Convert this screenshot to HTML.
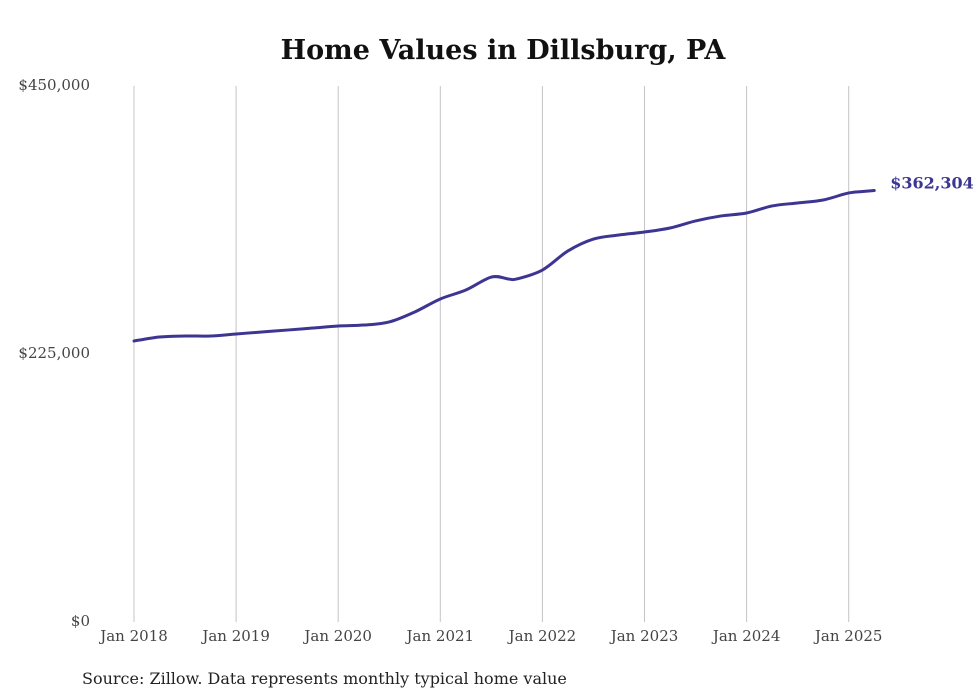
<!DOCTYPE html>
<html><head><meta charset="utf-8"><style>
html,body{margin:0;padding:0;background:#fff;}
svg{display:block;font-family:"DejaVu Serif","Liberation Serif",serif;}
</style></head><body>
<svg id="chart" width="980" height="699" viewBox="0 0 980 699">
<text x="503" y="59" text-anchor="middle" font-size="27" font-weight="bold" fill="#111">Home Values in Dillsburg, PA</text>
<g id="grid"></g>
<g id="yaxis"></g>
<g id="xaxis"></g>
<g id="series"></g>
<text x="82" y="684" font-size="16" fill="#222">Source: Zillow. Data represents monthly typical home value</text>
</svg>
<script>
const months = [0,3,6,9,12,15,18,21,24,27,30,33,36,39,42,44,45,48,51,54,57,60,63,66,69,72,75,78,81,84,86,87];
const values = [235900,239300,240100,240100,241800,243500,245100,246800,248500,249300,251900,260300,271200,278700,289600,288000,288000,295500,311500,321500,324900,327400,330800,336700,340900,343400,349300,351800,354300,360200,361600,362304];
const xTickLabels = ["Jan 2018","Jan 2019","Jan 2020","Jan 2021","Jan 2022","Jan 2023","Jan 2024","Jan 2025"];
const xTickMonths = [0,12,24,36,48,60,72,84];
const yTickValues = [0,225000,450000];
const yTickLabels = ["$0","$225,000","$450,000"];
const endLabel = "$362,304";

const NS="http://www.w3.org/2000/svg";
const x0=134, pxPerMonth=102.1/12, yBase=622, yTop=86, yMax=450000;
const xs=m=>x0+m*pxPerMonth;
const ys=v=>yBase-(v/yMax)*(yBase-yTop);
function mk(t,attrs,parent){const e=document.createElementNS(NS,t);for(const k in attrs)e.setAttribute(k,attrs[k]);parent.appendChild(e);return e;}
const grid=document.getElementById('grid'),xa=document.getElementById('xaxis'),ya=document.getElementById('yaxis'),se=document.getElementById('series');
xTickMonths.forEach((m,i)=>{
  const l=mk('line',{x1:xs(m),x2:xs(m),y1:yTop,y2:yBase,stroke:'#c4c4c4','stroke-width':1},grid);
  
  
  const t=mk('text',{x:xs(m),y:641,'text-anchor':'middle','font-size':15,fill:'#444'},xa);
  t.textContent=xTickLabels[i];
  
  
});
yTickValues.forEach((v,i)=>{
  const t=mk('text',{x:90,y:ys(v)+4,'text-anchor':'end','font-size':15,fill:'#444'},ya);
  t.textContent=yTickLabels[i];
  
  
});
const pts=months.map((m,i)=>[xs(m),ys(values[i])]);
let d='M'+pts[0][0]+','+pts[0][1];
for(let i=0;i<pts.length-1;i++){
  const p0=pts[Math.max(0,i-1)],p1=pts[i],p2=pts[i+1],p3=pts[Math.min(pts.length-1,i+2)];
  const c1=[p1[0]+(p2[0]-p0[0])/6,p1[1]+(p2[1]-p0[1])/6];
  const c2=[p2[0]-(p3[0]-p1[0])/6,p2[1]-(p3[1]-p1[1])/6];
  d+=' C'+c1[0]+','+c1[1]+' '+c2[0]+','+c2[1]+' '+p2[0]+','+p2[1];
}
const path=mk('path',{d:d,fill:'none',stroke:'#3d3592','stroke-width':3,'stroke-linecap':'round','stroke-linejoin':'round'},se);


const last=pts[pts.length-1];
const lt=mk('text',{x:last[0]+16,y:last[1]-2,'font-size':16,'font-weight':'bold',fill:'#3d3592'},se);
lt.textContent=endLabel;


</script>
</body></html>
